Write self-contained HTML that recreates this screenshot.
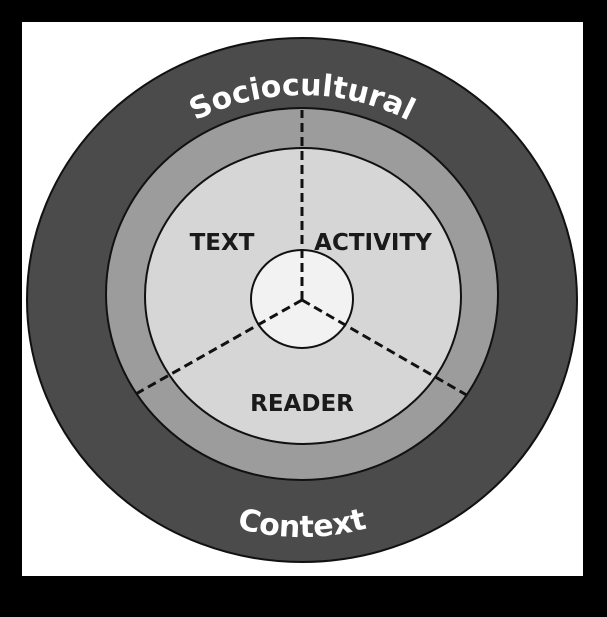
<!DOCTYPE html>
<html><head><style>
html,body{margin:0;padding:0;background:#000;}
svg{display:block;}
</style></head><body>
<svg width="607" height="617" viewBox="0 0 607 617" xmlns="http://www.w3.org/2000/svg">
<rect x="0" y="0" width="607" height="617" fill="#000"/>
<rect x="22" y="22" width="561" height="554" fill="#fff"/>
<ellipse cx="302" cy="300" rx="275" ry="262" fill="#4b4b4b" stroke="#111" stroke-width="2"/>
<ellipse cx="302" cy="294" rx="196" ry="186" fill="#9c9c9c" stroke="#111" stroke-width="2"/>
<ellipse cx="303" cy="296" rx="158" ry="148" fill="#d6d6d6" stroke="#111" stroke-width="2"/>
<ellipse cx="302" cy="299" rx="51" ry="49" fill="#f2f2f2" stroke="#111" stroke-width="2"/>
<g stroke="#111" stroke-width="3" stroke-dasharray="9,5" fill="none">
<line x1="302" y1="300" x2="302" y2="110"/>
<line x1="302" y1="300" x2="134" y2="395"/>
<line x1="302" y1="300" x2="470" y2="397"/>
</g>
<defs>
<path id="topArc" d="M 82 300 A 220 205 0 0 1 522 300"/>
<path id="botArc" d="M 62 300 A 240 237 0 0 0 542 300"/>
</defs>
<text font-family="DejaVu Sans, Liberation Sans, sans-serif" font-weight="bold" font-size="30" fill="#fff">
<textPath href="#topArc" startOffset="50%" text-anchor="middle">Sociocultural</textPath>
</text>
<text font-family="DejaVu Sans, Liberation Sans, sans-serif" font-weight="bold" font-size="30" fill="#fff">
<textPath href="#botArc" startOffset="50%" text-anchor="middle">Context</textPath>
</text>
<g font-family="DejaVu Sans, Liberation Sans, sans-serif" font-weight="bold" font-size="23" fill="#1a1a1a" text-anchor="middle">
<text x="222" y="250">TEXT</text>
<text x="373" y="250">ACTIVITY</text>
<text x="302" y="411">READER</text>
</g>
</svg>
</body></html>
